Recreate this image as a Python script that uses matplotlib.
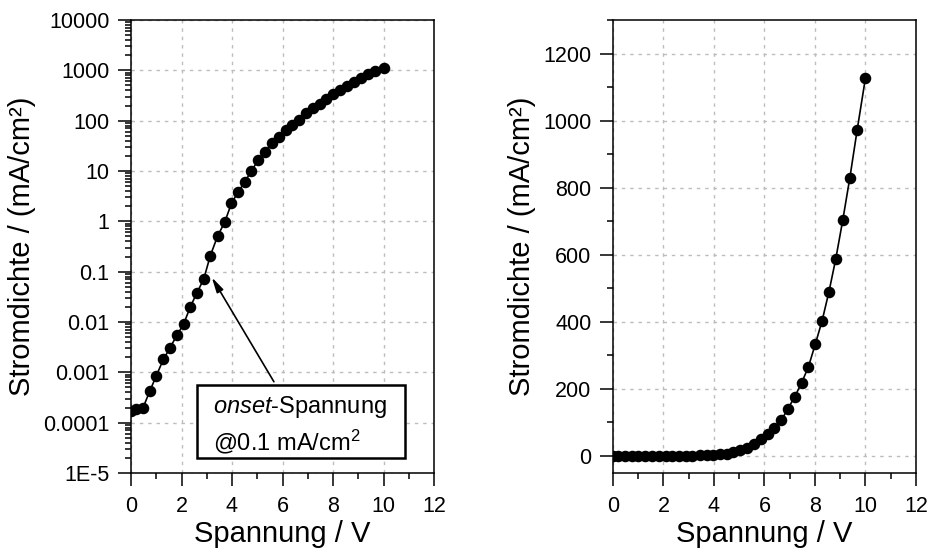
import numpy as np
import matplotlib
matplotlib.use('Agg')
import matplotlib.pyplot as plt
from matplotlib.ticker import MultipleLocator, FixedLocator, FixedFormatter, LogLocator, NullFormatter
from matplotlib.patches import Rectangle

plt.rcParams['font.family'] = ['Liberation Sans', 'DejaVu Sans']
plt.rcParams['mathtext.fontset'] = 'custom'
plt.rcParams['mathtext.rm'] = 'Liberation Sans'
plt.rcParams['mathtext.it'] = 'Liberation Sans:italic'

# voltage (V) and current density (mA/cm^2)
spannung = [0, 0.2, 0.48, 0.75, 1.0, 1.28, 1.55, 1.82, 2.08, 2.35, 2.61, 2.88,
            3.14, 3.43, 3.71, 3.98, 4.25, 4.51, 4.77, 5.04, 5.31, 5.58, 5.85,
            6.12, 6.39, 6.66, 6.93, 7.2, 7.47, 7.74, 8.01, 8.28, 8.55, 8.82,
            9.1, 9.38, 9.67, 10.0]
stromdichte = [1.7e-4, 1.85e-4, 2.0e-4, 4.3e-4, 8.5e-4, 1.8e-3, 3.1e-3, 5.5e-3,
               9.0e-3, 0.020, 0.038, 0.071, 0.207, 0.51, 0.96, 2.28, 3.9, 6.1,
               10.1, 16.5, 24, 36, 48, 64, 83, 105, 140, 176, 217, 265, 332,
               402, 488, 586, 703, 829, 972, 1128]

log_ticks = [1e-5, 1e-4, 1e-3, 1e-2, 1e-1, 1, 10, 100, 1000, 10000]
log_labels = ['1E-5', '0.0001', '0.001', '0.01', '0.1', '1', '10', '100', '1000', '10000']

fig = plt.figure(figsize=(9.28, 5.48), dpi=100)
ax1 = fig.add_axes([131/928, 75/548, 303/928, 453/548])
ax2 = fig.add_axes([613/928, 75/548, 303/928, 453/548])

grid_kw = dict(color='#bdbdbd', linestyle=(0, (2.5, 3.5)), linewidth=1.0)

for ax in (ax1, ax2):
    ax.plot(spannung, stromdichte, '-', color='k', lw=1.2,
            marker='o', ms=7.3, mfc='k', mec='k', zorder=3)
    ax.set_xlim(0, 12)
    ax.xaxis.set_major_locator(MultipleLocator(2))
    ax.xaxis.set_minor_locator(MultipleLocator(1))
    ax.tick_params(which='major', direction='out', length=9.5, width=1.1,
                   labelsize=15.5, pad=6, top=False, right=False)
    ax.tick_params(which='minor', direction='out', length=4.5, width=1.1,
                   top=False, right=False)
    ax.tick_params(axis='x', which='major', pad=7)
    for s in ax.spines.values():
        s.set_linewidth(1.1)
    ax.grid(True, which='major', **grid_kw)
    ax.set_axisbelow(True)
    ax.set_xlabel('Spannung / V', fontsize=21, labelpad=2)
    ax.set_ylabel('Stromdichte / (mA/cm²)', fontsize=21, labelpad=5)

# left: log scale
ax1.set_yscale('log')
ax1.set_ylim(1e-5, 1e4)
ax1.yaxis.set_major_locator(FixedLocator(log_ticks))
ax1.yaxis.set_major_formatter(FixedFormatter(log_labels))
ax1.yaxis.set_minor_locator(LogLocator(base=10, subs=np.arange(2, 10), numticks=20))
ax1.yaxis.set_minor_formatter(NullFormatter())
ax1.tick_params(axis='y', which='minor', length=4)

ax1.annotate('', xy=(3.2, 0.077), xytext=(5.66, 6.5e-4),
             arrowprops=dict(arrowstyle='-|>,head_width=0.22,head_length=0.9',
                             color='k', lw=1.2, shrinkA=0, shrinkB=0))
ax1.add_patch(Rectangle((2.6, 1.95e-5), 8.25, 5.6e-4 - 1.95e-5, fill=True,
                        facecolor='white', edgecolor='k', lw=1.8, zorder=4))
ax1.text(3.25, 1.56e-4, r'$\it{onset}$-Spannung', fontsize=17, va='baseline', zorder=5)
ax1.text(3.25, 2.87e-5, r'@0.1 mA/cm$^2$', fontsize=17, va='baseline', zorder=5)

# right: linear scale
ax2.set_ylim(-52, 1300)
ax2.yaxis.set_major_locator(MultipleLocator(200))
ax2.yaxis.set_minor_locator(MultipleLocator(100))

fig.savefig('out.png', dpi=100)
